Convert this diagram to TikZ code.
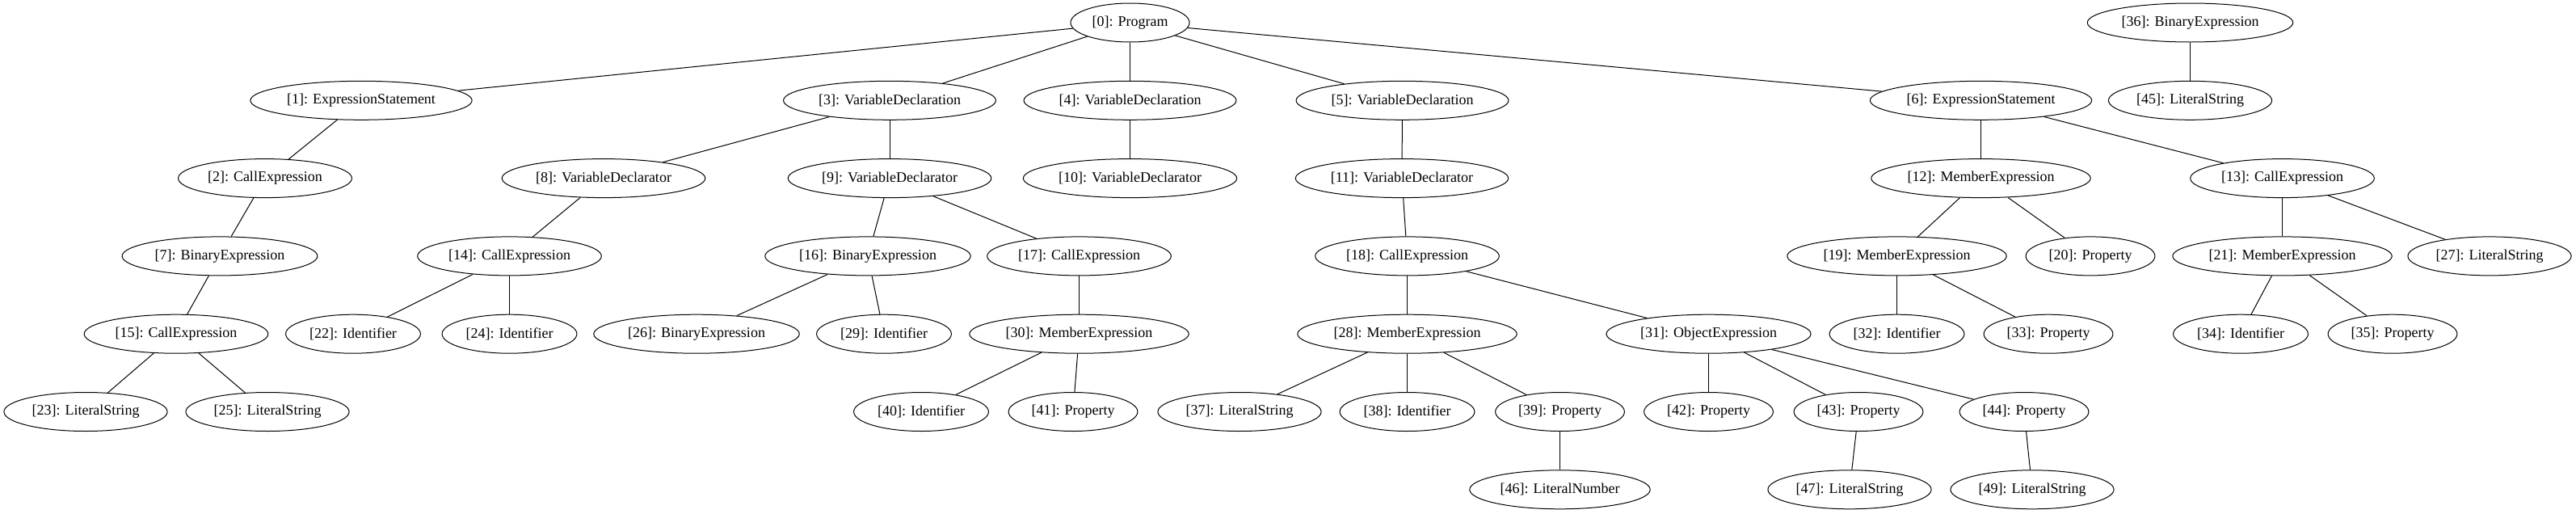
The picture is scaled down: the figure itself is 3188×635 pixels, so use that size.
\documentclass[tikz,border=0pt]{standalone}
\usepackage{fontspec}
\setmainfont{Liberation Serif}
\usepackage{tikz}
\usetikzlibrary{shapes.geometric}

\begin{document}
\begin{tikzpicture}[x=1pt, y=1pt,
    astnode/.style={draw, ellipse, line width=1pt, inner xsep=5pt, inner ysep=0pt,
        minimum height=48pt, font=\fontsize{18}{21}\selectfont},
    astedge/.style={line width=1pt}]

\useasboundingbox (0,0) rectangle (3188,-635);

% ノード (番号/横位置/段/種類)
\foreach \id/\x/\r/\kind in {
    0/1398.5/0/Program,
    36/2710.5/0/BinaryExpression,
    1/447/1/ExpressionStatement,
    3/1101/1/VariableDeclaration,
    4/1398.5/1/VariableDeclaration,
    5/1735.5/1/VariableDeclaration,
    6/2451.5/1/ExpressionStatement,
    45/2710.5/1/LiteralString,
    2/328/2/CallExpression,
    8/747/2/VariableDeclarator,
    9/1101/2/VariableDeclarator,
    10/1398.5/2/VariableDeclarator,
    11/1735/2/VariableDeclarator,
    12/2451.5/2/MemberExpression,
    13/2824.5/2/CallExpression,
    7/272/3/BinaryExpression,
    14/630.5/3/CallExpression,
    16/1074/3/BinaryExpression,
    17/1335.5/3/CallExpression,
    18/1741.5/3/CallExpression,
    19/2347.5/3/MemberExpression,
    20/2587/3/Property,
    21/2824.5/3/MemberExpression,
    27/3081/3/LiteralString,
    15/218/4/CallExpression,
    22/437/4/Identifier,
    24/630.5/4/Identifier,
    26/862/4/BinaryExpression,
    29/1094/4/Identifier,
    30/1335.5/4/MemberExpression,
    28/1741.5/4/MemberExpression,
    31/2114.5/4/ObjectExpression,
    32/2347.5/4/Identifier,
    33/2535/4/Property,
    34/2773/4/Identifier,
    35/2961/4/Property,
    23/106/5/LiteralString,
    25/331/5/LiteralString,
    40/1140/5/Identifier,
    41/1328/5/Property,
    37/1534/5/LiteralString,
    38/1741.5/5/Identifier,
    39/1930.5/5/Property,
    42/2114.5/5/Property,
    43/2300/5/Property,
    44/2505/5/Property,
    46/1930.5/6/LiteralNumber,
    47/2289/6/LiteralString,
    49/2515/6/LiteralString} {
    \node[astnode] (n\id) at ({\x}, {-28-96.3*\r}) {[\id]: \kind};
}

% 辺 (親/子)
\foreach \a/\b in {
    0/1, 0/3, 0/4, 0/5, 0/6,
    1/2, 2/7, 7/15, 15/23, 15/25,
    3/8, 3/9, 8/14, 14/22, 14/24,
    9/16, 9/17, 16/26, 16/29, 17/30, 30/40, 30/41,
    4/10,
    5/11, 11/18, 18/28, 18/31,
    28/37, 28/38, 28/39, 39/46,
    31/42, 31/43, 31/44, 43/47, 44/49,
    6/12, 6/13, 12/19, 12/20, 19/32, 19/33,
    13/21, 13/27, 21/34, 21/35,
    36/45}{
    \draw[astedge] (n\a) -- (n\b);
}
\end{tikzpicture}
\end{document}
